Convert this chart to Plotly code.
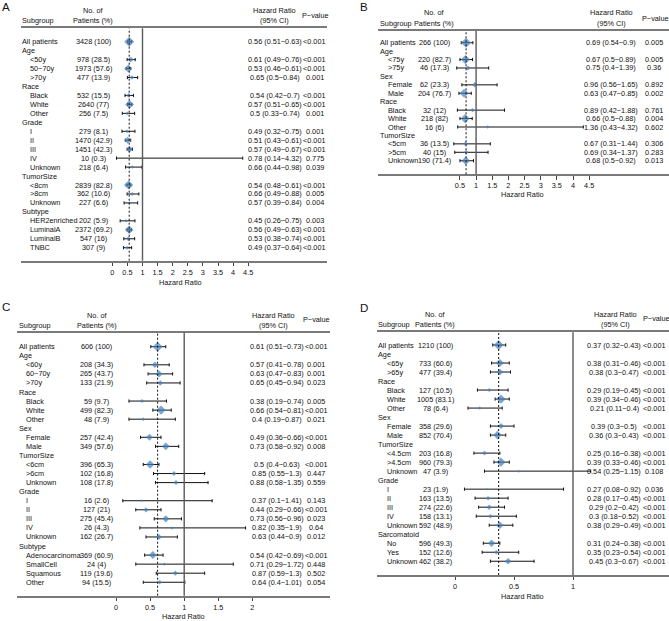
import plotly.graph_objects as go

W, H = 669, 621
MINUS = "\u2212"
FONT = "Liberation Sans, Arial, Helvetica, sans-serif"
FS = 7.3
BLUE = "#4480BC"

# ---------------- Panel A data ----------------
a_sub = ["All patients", "Age", "<50y", "50" + MINUS + "70y", ">70y", "Race", "Black", "White", "Other",
         "Grade", "I", "II", "III", "IV", "Unknown", "TumorSize", "<8cm", ">8cm", "Unknown",
         "Subtype", "HER2enriched", "LuminalA", "LuminalB", "TNBC"]
a_level = [0, 0, 1, 1, 1, 0, 1, 1, 1, 0, 1, 1, 1, 1, 1, 0, 1, 1, 1, 0, 1, 1, 1, 1]
a_n = [3428, None, 978, 1973, 477, None, 532, 2640, 256, None, 279, 1470, 1451, 10, 218,
       None, 2839, 362, 227, None, 202, 2372, 547, 307]
a_pct = [100, None, 28.5, 57.6, 13.9, None, 15.5, 77, 7.5, None, 8.1, 42.9, 42.3, 0.3, 6.4,
         None, 82.8, 10.6, 6.6, None, 5.9, 69.2, 16, 9]
a_hr = [0.56, None, 0.61, 0.53, 0.65, None, 0.54, 0.57, 0.5, None, 0.49, 0.51, 0.57, 0.78, 0.66,
        None, 0.54, 0.66, 0.57, None, 0.45, 0.56, 0.53, 0.49]
a_lo = [0.51, None, 0.49, 0.46, 0.5, None, 0.42, 0.51, 0.33, None, 0.32, 0.43, 0.49, 0.14, 0.44,
        None, 0.48, 0.49, 0.39, None, 0.26, 0.49, 0.38, 0.37]
a_hi = [0.63, None, 0.76, 0.61, 0.84, None, 0.7, 0.65, 0.74, None, 0.75, 0.61, 0.67, 4.32, 0.98,
        None, 0.61, 0.88, 0.84, None, 0.75, 0.63, 0.74, 0.64]
a_p = ["<0.001", None, "<0.001", "<0.001", "0.001", None, "<0.001", "<0.001", "0.001", None,
       "0.001", "<0.001", "<0.001", "0.775", "0.039", None, "<0.001", "0.005", "0.004", None,
       "0.003", "<0.001", "<0.001", "<0.001"]
a_ticks = [0, 0.5, 1, 1.5, 2, 2.5, 3, 3.5, 4, 4.5]

# ---------------- Panel B data ----------------
b_sub = ["All patients", "Age", "<75y", ">75y", "Sex", "Female", "Male", "Race", "Black", "White",
         "Other", "TumorSize", "<5cm", ">5cm", "Unknown"]
b_level = [0, 0, 1, 1, 0, 1, 1, 0, 1, 1, 1, 0, 1, 1, 1]
b_n = [266, None, 220, 46, None, 62, 204, None, 32, 218, 16, None, 36, 40, 190]
b_pct = [100, None, 82.7, 17.3, None, 23.3, 76.7, None, 12, 82, 6, None, 13.5, 15, 71.4]
b_hr = [0.69, None, 0.67, 0.75, None, 0.96, 0.63, None, 0.89, 0.66, 1.36, None, 0.67, 0.69, 0.68]
b_lo = [0.54, None, 0.5, 0.4, None, 0.56, 0.47, None, 0.42, 0.5, 0.43, None, 0.31, 0.34, 0.5]
b_hi = [0.9, None, 0.89, 1.39, None, 1.65, 0.85, None, 1.88, 0.88, 4.32, None, 1.44, 1.37, 0.92]
b_p = ["0.005", None, "0.005", "0.36", None, "0.892", "0.002", None, "0.761", "0.004", "0.602",
       None, "0.306", "0.283", "0.013"]
b_ticks = [0.5, 1, 1.5, 2, 2.5, 3, 3.5, 4, 4.5]

# ---------------- Panel C data ----------------
c_sub = ["All patients", "Age", "<60y", "60" + MINUS + "70y", ">70y", "Race", "Black", "White", "Other",
         "Sex", "Female", "Male", "TumorSize", "<6cm", ">6cm", "Unknown", "Grade", "I", "II", "III",
         "IV", "Unknown", "Subtype", "Adenocarcinoma", "SmallCell", "Squamous", "Other"]
c_level = [0, 0, 1, 1, 1, 0, 1, 1, 1, 0, 1, 1, 0, 1, 1, 1, 0, 1, 1, 1, 1, 1, 0, 1, 1, 1, 1]
c_n = [606, None, 208, 265, 133, None, 59, 499, 48, None, 257, 349, None, 396, 102, 108, None,
       16, 127, 275, 26, 162, None, 369, 24, 119, 94]
c_pct = [100, None, 34.3, 43.7, 21.9, None, 9.7, 82.3, 7.9, None, 42.4, 57.6, None, 65.3, 16.8,
         17.8, None, 2.6, 21, 45.4, 4.3, 26.7, None, 60.9, 4, 19.6, 15.5]
c_hr = [0.61, None, 0.57, 0.63, 0.65, None, 0.38, 0.66, 0.4, None, 0.49, 0.73, None, 0.5, 0.85,
        0.88, None, 0.37, 0.44, 0.73, 0.82, 0.63, None, 0.54, 0.71, 0.87, 0.64]
c_lo = [0.51, None, 0.41, 0.47, 0.45, None, 0.19, 0.54, 0.19, None, 0.36, 0.58, None, 0.4, 0.55,
        0.58, None, 0.1, 0.29, 0.56, 0.35, 0.44, None, 0.42, 0.29, 0.59, 0.4]
c_hi = [0.73, None, 0.78, 0.83, 0.94, None, 0.74, 0.81, 0.87, None, 0.66, 0.92, None, 0.63, 1.3,
        1.35, None, 1.41, 0.66, 0.96, 1.9, 0.9, None, 0.69, 1.72, 1.3, 1.01]
c_p = ["<0.001", None, "0.001", "0.001", "0.023", None, "0.005", "<0.001", "0.021", None,
       "<0.001", "0.008", None, "<0.001", "0.447", "0.559", None, "0.143", "<0.001", "0.023",
       "0.64", "0.012", None, "<0.001", "0.448", "0.502", "0.054"]
c_ticks = [0, 0.5, 1, 1.5, 2]

# ---------------- Panel D data ----------------
d_sub = ["All patients", "Age", "<65y", ">65y", "Race", "Black", "White", "Other", "Sex", "Female",
         "Male", "TumorSize", "<4.5cm", ">4.5cm", "Unknown", "Grade", "I", "II", "III", "IV",
         "Unknown", "Sarcomatoid", "No", "Yes", "Unknown"]
d_level = [0, 0, 1, 1, 0, 1, 1, 1, 0, 1, 1, 0, 1, 1, 1, 0, 1, 1, 1, 1, 1, 0, 1, 1, 1]
d_n = [1210, None, 733, 477, None, 127, 1005, 78, None, 358, 852, None, 203, 960, 47, None,
       23, 163, 274, 158, 592, None, 596, 152, 462]
d_pct = [100, None, 60.6, 39.4, None, 10.5, 83.1, 6.4, None, 29.6, 70.4, None, 16.8, 79.3, 3.9,
         None, 1.9, 13.5, 22.6, 13.1, 48.9, None, 49.3, 12.6, 38.2]
d_hr = [0.37, None, 0.38, 0.38, None, 0.29, 0.39, 0.21, None, 0.39, 0.36, None, 0.25, 0.39, 0.54,
        None, 0.27, 0.28, 0.29, 0.3, 0.38, None, 0.31, 0.35, 0.45]
d_lo = [0.32, None, 0.31, 0.3, None, 0.19, 0.34, 0.11, None, 0.3, 0.3, None, 0.16, 0.33, 0.25,
        None, 0.08, 0.17, 0.2, 0.18, 0.29, None, 0.24, 0.23, 0.3]
d_hi = [0.43, None, 0.46, 0.47, None, 0.45, 0.46, 0.4, None, 0.5, 0.43, None, 0.38, 0.46, 1.15,
        None, 0.92, 0.45, 0.42, 0.52, 0.49, None, 0.38, 0.54, 0.67]
d_p = ["<0.001", None, "<0.001", "<0.001", None, "<0.001", "<0.001", "<0.001", None, "<0.001",
       "<0.001", None, "<0.001", "<0.001", "0.108", None, "0.036", "<0.001", "<0.001", "<0.001",
       "<0.001", None, "<0.001", "<0.001", "<0.001"]
d_ticks = [0, 0.5, 1]

# ---------------- layout specs (pixels) ----------------
panels = [
    dict(letter="A", sub=a_sub, level=a_level, n=a_n, pct=a_pct, hr=a_hr, lo=a_lo, hi=a_hi, p=a_p,
         ticks=a_ticks, left=20.7, right=327, top=28.3, bottom=260.7, x0=112.3, ppu=30.2,
         row0=41.7, step=8.957, sx=20.7, ix=29.3, nx=93.3, hx=275, px=314.7,
         hy1=10.5, hy2=20, py=15.2, lx=6, ly=7.3, tx=180.3, ty=282.7, hhx=274, phx=315),
    dict(letter="B", sub=b_sub, level=b_level, n=b_n, pct=b_pct, hr=b_hr, lo=b_lo, hi=b_hi, p=b_p,
         ticks=b_ticks, left=378.3, right=668.5, top=31, bottom=174.3, x0=443.8, ppu=32.3,
         row0=42.7, step=8.43, sx=379, ix=387.3, nx=434.5, hx=611, px=654,
         hy1=12.7, hy2=23.3, py=18.3, lx=364, ly=7.3, tx=522, ty=194, hhx=611.7, phx=655),
    dict(letter="C", sub=c_sub, level=c_level, n=c_n, pct=c_pct, hr=c_hr, lo=c_lo, hi=c_hi, p=c_p,
         ticks=c_ticks, left=16.7, right=330, top=332.7, bottom=595.7, x0=116, ppu=68.2,
         row0=346.7, step=9.06, sx=17.5, ix=25, nx=96.7, hx=277, px=316,
         hy1=315, hy2=325, py=319.5, lx=5.5, ly=307.2, tx=183.5, ty=616.7, hhx=273.3, phx=316.7),
    dict(letter="D", sub=d_sub, level=d_level, n=d_n, pct=d_pct, hr=d_hr, lo=d_lo, hi=d_hi, p=d_p,
         ticks=d_ticks, left=376.7, right=668.5, top=332.3, bottom=575, x0=455, ppu=118,
         row0=345, step=9.01, sx=377.3, ix=385.7, nx=435, hx=614, px=654,
         hy1=314, hy2=324, py=318.3, lx=364, ly=307.8, tx=522.5, ty=596, hhx=615, phx=656.7),
]

fig = go.Figure()
annotations = []
shapes = []


def ann(text, x, y, yref="paper", xanchor="center", size=FS):
    annotations.append(dict(text=text, x=x / W, y=y if yref != "paper" else 1 - y / H,
                            xref="paper", yref=yref, xanchor=xanchor, yanchor="middle",
                            showarrow=False, borderpad=0,
                            font=dict(family=FONT, size=size, color="#111")))


for k, P in enumerate(panels, start=1):
    xa = "x" if k == 1 else f"x{k}"
    ya = "y" if k == 1 else f"y{k}"
    xkey = "xaxis" if k == 1 else f"xaxis{k}"
    ykey = "yaxis" if k == 1 else f"yaxis{k}"

    rows = list(range(len(P["sub"])))
    idx = [i for i in rows if P["hr"][i] is not None]
    xs = [P["hr"][i] for i in idx]
    ys = [i for i in idx]
    plus = [P["hi"][i] - P["hr"][i] for i in idx]
    minus = [P["hr"][i] - P["lo"][i] for i in idx]
    sizes = [(1.3 + 8.7 * (P["pct"][i] / 100) ** 0.5) / 1.3 for i in idx]

    fig.add_trace(go.Scatter(
        x=xs, y=ys, xaxis=xa, yaxis=ya, mode="markers",
        marker=dict(symbol="diamond", color=BLUE, size=sizes, line=dict(width=0)),
        error_x=dict(type="data", symmetric=False, array=plus, arrayminus=minus,
                     color="#111", thickness=1, width=1.6),
        showlegend=False, hoverinfo="skip"))

    xr = [(P["left"] - P["x0"]) / P["ppu"], (P["right"] - P["x0"]) / P["ppu"]]
    yr = [(P["bottom"] - P["row0"]) / P["step"], (P["top"] - P["row0"]) / P["step"]]

    fig.update_layout({
        xkey: dict(domain=[P["left"] / W, P["right"] / W], range=xr, anchor=ya,
                   showline=True, mirror=True, linecolor="#7a7a7a", linewidth=1.6,
                   ticks="outside", ticklen=3.5, tickwidth=1, tickcolor="#444",
                   tickvals=P["ticks"], ticktext=[f"{t:g}" for t in P["ticks"]],
                   tickfont=dict(family=FONT, size=FS, color="#111"),
                   showgrid=False, zeroline=False, fixedrange=True),
        ykey: dict(domain=[1 - P["bottom"] / H, 1 - P["top"] / H], range=yr, anchor=xa,
                   visible=False, showgrid=False, zeroline=False, fixedrange=True),
    })

    # reference line at HR = 1 and dashed line at overall HR
    shapes.append(dict(type="line", xref=xa, yref=f"{ya} domain", x0=1, x1=1, y0=0, y1=1,
                       line=dict(color="#5a5a5a", width=1.4)))
    shapes.append(dict(type="line", xref=xa, yref=f"{ya} domain", x0=P["hr"][0], x1=P["hr"][0],
                       y0=0, y1=1, line=dict(color="#111", width=1, dash="2px,2px")))

    # header
    ann(P["letter"], P["lx"], P["ly"], size=11.5)
    ann("Subgroup", P["sx"], P["hy2"], xanchor="left")
    ann("No. of", P["nx"], P["hy1"])
    ann("Patients (%)", P["nx"], P["hy2"])
    ann("Hazard Ratio", P["hhx"], P["hy1"])
    ann("(95% CI)", P["hhx"], P["hy2"])
    ann("P" + MINUS + "value", P["phx"], P["py"])
    ann("Hazard Ratio", P["tx"], P["ty"])

    # table rows
    for i in rows:
        x_lab = P["sx"] if P["level"][i] == 0 else P["ix"]
        ann(P["sub"][i], x_lab, i, yref=ya, xanchor="left")
        if P["n"][i] is not None:
            ann(f"{P['n'][i]} ({P['pct'][i]:g})", P["nx"], i, yref=ya)
            ann(f"{P['hr'][i]:g} ({P['lo'][i]:g}{MINUS}{P['hi'][i]:g})", P["hx"], i, yref=ya)
            ann(P["p"][i], P["px"], i, yref=ya)

fig.update_layout(width=W, height=H, margin=dict(l=0, r=0, t=0, b=0),
                  paper_bgcolor="white", plot_bgcolor="white",
                  annotations=annotations, shapes=shapes,
                  font=dict(family=FONT, size=FS, color="#111"))

fig.write_html("out.html", config={"displayModeBar": False},
               post_script="document.body.style.margin='0';document.body.style.overflow='hidden';")
